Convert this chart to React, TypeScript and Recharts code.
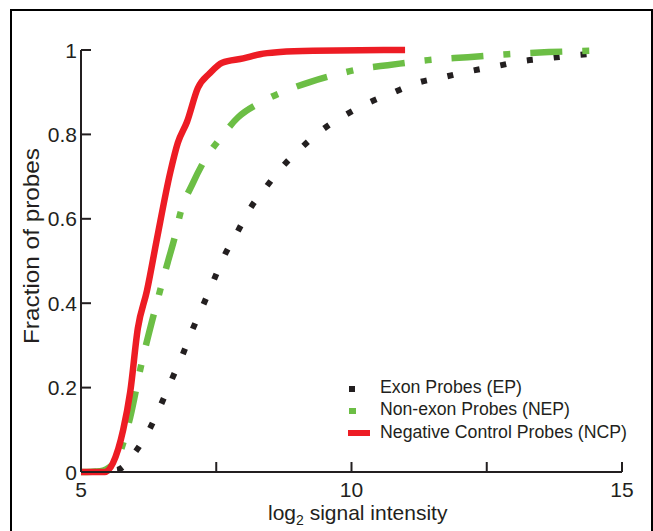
import React from 'react';
import { LineChart, Line, XAxis, YAxis } from 'recharts';

const epX = [5.17, 5.67, 6.0, 6.26, 6.48, 6.68, 6.87, 7.05, 7.24, 7.44, 7.64, 7.88, 8.12, 8.42, 8.72, 9.07, 9.45, 9.86, 10.3, 10.75, 11.21, 11.71, 12.19, 12.69, 13.17, 13.67, 14.17, 14.65];
const epY = [0, 0.005, 0.047, 0.1, 0.16, 0.22, 0.275, 0.334, 0.39, 0.45, 0.51, 0.566, 0.623, 0.675, 0.723, 0.768, 0.81, 0.844, 0.874, 0.898, 0.922, 0.936, 0.95, 0.962, 0.974, 0.981, 0.988, 0.993];

const nepX = [5.0, 5.35, 5.63, 5.91, 6.09, 6.42, 6.61, 6.74, 6.83, 7.07, 7.29, 7.57, 7.9, 8.31, 8.81, 9.23, 9.66, 10.25, 10.67, 11.41, 12.15, 12.89, 13.65, 14.41, 14.72];
const nepY = [0, 0.002, 0.024, 0.13, 0.24, 0.41, 0.5, 0.56, 0.61, 0.685, 0.74, 0.79, 0.84, 0.875, 0.905, 0.924, 0.94, 0.957, 0.964, 0.976, 0.983, 0.99, 0.995, 0.998, 0.999];

const ncpX = [5.0, 5.44, 5.59, 5.78, 5.91, 6.05, 6.22, 6.4, 6.65, 6.79, 6.96, 7.16, 7.38, 7.61, 8.0, 8.31, 8.68, 9.29, 10.99];
const ncpY = [0, 0, 0.021, 0.1, 0.19, 0.34, 0.43, 0.55, 0.71, 0.78, 0.83, 0.91, 0.945, 0.97, 0.98, 0.99, 0.995, 0.998, 1.0];

const xTicks = [5, 7.5, 10, 12.5, 15];
const xTickLabels = ['5', '', '10', '', '15'];
const yTicks = [0, 0.2, 0.4, 0.6, 0.8, 1];
const yTickLabels = ['0', '0.2', '0.4', '0.6', '0.8', '1'];

const seriesNames = ['Exon Probes (EP)', 'Non-exon Probes (NEP)', 'Negative Control Probes (NCP)'];

const toData = (xs: number[], ys: number[]) => xs.map((x, i) => ({ x, y: ys[i] }));
const epData = toData(epX, epY);
const nepData = toData(nepX, nepY);
const ncpData = toData(ncpX, ncpY);

const AX = '#231F20';
const RED = '#ED1C24';
const GREEN = '#6CBE45';
const FONT = '"Liberation Sans", Arial, sans-serif';

const XTick = (props: any) => {
  const { x, y, payload } = props;
  const idx = xTicks.indexOf(payload.value);
  const label = idx >= 0 ? xTickLabels[idx] : '';
  return (
    <g>
      <line x1={x} y1={y} x2={x} y2={y - 10} stroke={AX} strokeWidth={2} />
      {label && (
        <text x={x} y={y + 25} textAnchor="middle" fontSize={21} fontFamily={FONT} fill={AX}>
          {label}
        </text>
      )}
    </g>
  );
};

const YTick = (props: any) => {
  const { x, y, payload } = props;
  const idx = yTicks.indexOf(payload.value);
  const label = idx >= 0 ? yTickLabels[idx] : '';
  return (
    <g>
      <line x1={x} y1={y} x2={x + 10} y2={y} stroke={AX} strokeWidth={2} />
      <text x={x - 4} y={y + 7.5} textAnchor="end" fontSize={21} fontFamily={FONT} fill={AX}>
        {label}
      </text>
    </g>
  );
};

export default function App() {
  return (
    <div style={{ position: 'absolute', left: 0, top: 0, width: 653, height: 531, overflow: 'hidden', background: '#fff' }}>
      <div
        style={{
          position: 'absolute',
          left: 10,
          top: 9,
          width: 639,
          height: 530,
          borderLeft: '2px solid #000',
          borderTop: '2px solid #000',
          borderRight: '2px solid #000',
        }}
      />
      <div style={{ position: 'absolute', left: 0, top: 0 }}>
        <LineChart width={653} height={531} margin={{ top: 50, right: 31, bottom: 0, left: 0 }}>
          <XAxis
            type="number"
            dataKey="x"
            domain={[5, 15]}
            ticks={xTicks}
            interval={0}
            tickSize={0}
            tickMargin={0}
            tickLine={false}
            tick={<XTick />}
            height={59}
            axisLine={{ stroke: AX, strokeWidth: 2 }}
            allowDuplicatedCategory={false}
          />
          <YAxis
            type="number"
            dataKey="y"
            domain={[0, 1]}
            ticks={yTicks}
            interval={0}
            tickSize={0}
            tickMargin={0}
            tickLine={false}
            tick={<YTick />}
            width={81}
            axisLine={{ stroke: AX, strokeWidth: 2 }}
          />
          <Line
            data={epData}
            dataKey="y"
            name={seriesNames[0]}
            type="monotone"
            stroke={AX}
            strokeWidth={6}
            strokeDasharray="6 21"
            dot={false}
            activeDot={false}
            isAnimationActive={false}
          />
          <Line
            data={nepData}
            dataKey="y"
            name={seriesNames[1]}
            type="monotone"
            stroke={GREEN}
            strokeWidth={6.5}
            strokeDasharray="32 20 7 20"
            dot={false}
            activeDot={false}
            isAnimationActive={false}
          />
          <Line
            data={ncpData}
            dataKey="y"
            name={seriesNames[2]}
            type="monotone"
            stroke={RED}
            strokeWidth={6.5}
            dot={false}
            activeDot={false}
            isAnimationActive={false}
          />
        </LineChart>
      </div>
      <svg width={653} height={531} style={{ position: 'absolute', left: 0, top: 0, pointerEvents: 'none' }}>
        <text x={268} y={520} fontSize={21} fontFamily={FONT} fill={AX}>
          log<tspan fontSize={14} dy={5}>2</tspan>
          <tspan dy={-5}> signal intensity</tspan>
        </text>
        <text
          x={0}
          y={0}
          transform="translate(39,246) rotate(-90)"
          textAnchor="middle"
          fontSize={22}
          textLength={196}
          lengthAdjust="spacingAndGlyphs"
          fontFamily={FONT}
          fill={AX}
        >
          Fraction of probes
        </text>
        <g transform="translate(348,384)">
          <rect x={1} y={2} width={6} height={6} fill={AX} />
          <text x={32} y={9} fontSize={17.5} textLength={142} lengthAdjust="spacingAndGlyphs" fontFamily={FONT} fill={AX}>{seriesNames[0]}</text>
          <rect x={1} y={24} width={7} height={6} fill={GREEN} />
          <text x={32} y={31} fontSize={17.5} textLength={190} lengthAdjust="spacingAndGlyphs" fontFamily={FONT} fill={AX}>{seriesNames[1]}</text>
          <rect x={0} y={46} width={22} height={6} fill={RED} />
          <text x={32} y={54} fontSize={17.5} textLength={247} lengthAdjust="spacingAndGlyphs" fontFamily={FONT} fill={AX}>{seriesNames[2]}</text>
        </g>
      </svg>
    </div>
  );
}
